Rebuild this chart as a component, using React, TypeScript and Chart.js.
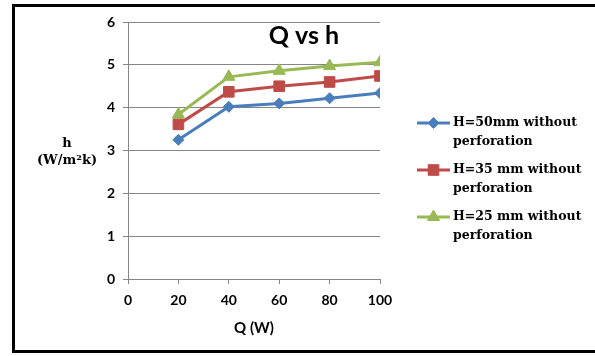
import React, { useEffect, useRef } from "react";
import { Chart, registerables } from "chart.js";
import { drawPoint } from "chart.js/helpers";

Chart.register(...registerables);

// Heat input Q (W)
const qValues = [20, 40, 60, 80, 100];
// Heat transfer coefficient h (W/m²k) for each fin height
const h50 = [3.25, 4.02, 4.1, 4.22, 4.34];
const h35 = [3.61, 4.37, 4.5, 4.6, 4.74];
const h25 = [3.84, 4.72, 4.86, 4.97, 5.06];

const seriesLabels = [
  ["H=50mm without", "perforation"],
  ["H=35 mm without", "perforation"],
  ["H=25 mm without", "perforation"],
];
const seriesColors = ["#4A7EBB", "#BE4B48", "#98B954"];
const seriesMarkers = ["rectRot", "rect", "triangle"];
const markerRadius = [5.5, 7.5, 7];

const chartTitle = "Q vs h";
const yTitle = ["h", "(W/m²k)"];
const xTitle = "Q (W)";

const SANS = "Lato, 'Open Sans', sans-serif";
const SERIF = "'DejaVu Serif', 'Liberation Serif', serif";

const decorPlugin = {
  id: "decor",
  beforeDraw(chart: any) {
    const ctx = chart.ctx;
    ctx.save();
    ctx.fillStyle = "#ffffff";
    ctx.fillRect(0, 0, chart.width, chart.height);
    ctx.strokeStyle = "#000000";
    ctx.lineWidth = 3;
    ctx.strokeRect(13.5, 5.5, chart.width + 10, 346);
    ctx.restore();
  },
  afterDraw(chart: any) {
    const ctx = chart.ctx;
    const area = chart.chartArea;
    ctx.save();
    // chart title inside plot area
    ctx.fillStyle = "#000000";
    ctx.font = `bold 25px ${SANS}`;
    ctx.textAlign = "center";
    ctx.textBaseline = "middle";
    ctx.fillText(chartTitle, 304, 36);

    // horizontal y-axis title
    ctx.font = `bold 13px ${SERIF}`;
    ctx.fillText(yTitle[0], 67, 144);
    ctx.fillText(yTitle[1], 67, 161);

    // x-axis title
    ctx.font = `bold 15px ${SANS}`;
    ctx.fillText(xTitle, (area.left + area.right) / 2, 328);

    // legend
    const baseY = [123, 170, 217];
    chart.data.datasets.forEach((ds: any, i: number) => {
      const y = baseY[i];
      ctx.strokeStyle = ds.borderColor;
      ctx.lineWidth = 3;
      ctx.beginPath();
      ctx.moveTo(417, y);
      ctx.lineTo(450, y);
      ctx.stroke();
      ctx.fillStyle = ds.backgroundColor;
      ctx.strokeStyle = ds.borderColor;
      ctx.lineWidth = 1;
      drawPoint(ctx, { pointStyle: ds.pointStyle, radius: ds.pointRadius, rotation: 0, borderWidth: 1 }, 433.5, y);
      ctx.fillStyle = "#000000";
      ctx.font = `bold 12.5px ${SERIF}`;
      ctx.textAlign = "left";
      ctx.textBaseline = "middle";
      seriesLabels[i].forEach((line, j) => {
        ctx.fillText(line, 453, y + j * 19);
      });
    });
    ctx.restore();
  },
};

export default function App() {
  const canvasRef = useRef<HTMLCanvasElement>(null);

  useEffect(() => {
    const canvas = canvasRef.current;
    if (!canvas) return;
    const series = [h50, h35, h25];
    const chart = new Chart(canvas, {
      type: "line",
      data: {
        datasets: series.map((vals, i) => ({
          label: seriesLabels[i].join(" "),
          data: qValues.map((q, k) => ({ x: q, y: vals[k] })),
          borderColor: seriesColors[i],
          backgroundColor: seriesColors[i],
          borderWidth: 3,
          pointStyle: seriesMarkers[i] as any,
          pointRadius: markerRadius[i],
          pointBorderWidth: 1,
          tension: 0,
        })),
      },
      options: {
        animation: false,
        responsive: false,
        maintainAspectRatio: false,
        layout: { padding: { left: 0, right: 215, top: 22, bottom: 0 } },
        plugins: {
          legend: { display: false },
          title: { display: false },
          tooltip: { enabled: false },
        },
        scales: {
          x: {
            type: "linear",
            min: 0,
            max: 100,
            afterFit: (s: any) => {
              s.height = 77;
            },
            ticks: {
              stepSize: 20,
              color: "#000000",
              font: { family: SANS, size: 14, weight: "bold" },
              padding: 8,
            },
            grid: {
              drawOnChartArea: false,
              drawTicks: true,
              tickLength: 5,
              color: "#868686",
            },
            border: { color: "#868686", width: 1 },
          },
          y: {
            min: 0,
            max: 6,
            afterFit: (s: any) => {
              s.width = 128;
            },
            ticks: {
              stepSize: 1,
              color: "#000000",
              font: { family: SANS, size: 14, weight: "bold" },
              padding: 8,
            },
            grid: {
              color: "#868686",
              drawTicks: true,
              tickLength: 5,
            },
            border: { color: "#868686", width: 1 },
          },
        },
      },
      plugins: [decorPlugin],
    });
    return () => chart.destroy();
  }, []);

  return (
    <div style={{ position: "fixed", left: 0, top: 0, width: 595, height: 356 }}>
      <canvas ref={canvasRef} width={595} height={356} style={{ width: 595, height: 356 }} />
    </div>
  );
}
